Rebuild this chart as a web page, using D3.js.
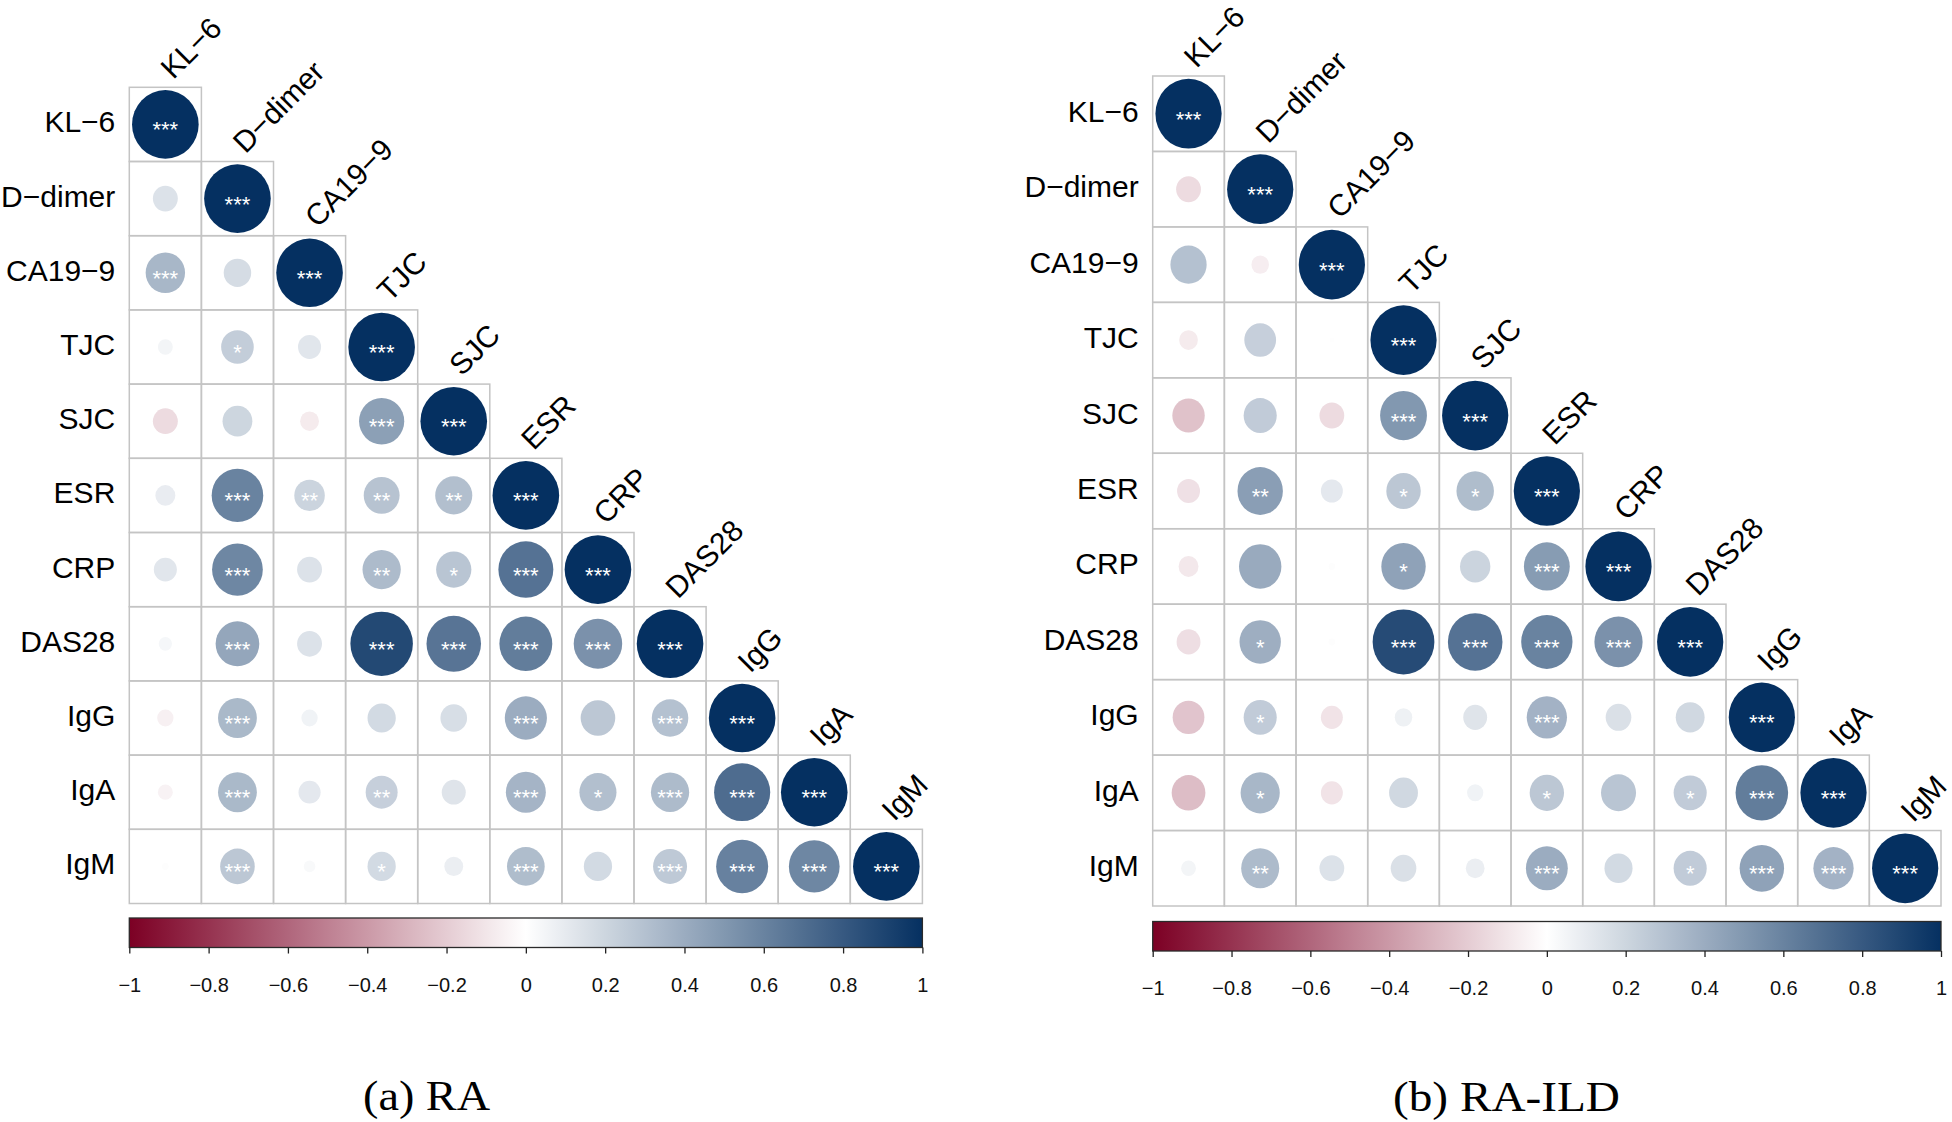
<!DOCTYPE html>
<html>
<head>
<meta charset="utf-8">
<script src="https://cdn.jsdelivr.net/npm/d3@7"></script>
<style>
  html, body { margin: 0; padding: 0; background: #fff; }
  svg { display: block; }
</style>
</head>
<body>
<svg id="chart" width="1952" height="1122"></svg>
<script>
// ---------------- DATA ----------------
const variables = ["KL\u22126", "D\u2212dimer", "CA19\u22129", "TJC", "SJC", "ESR", "CRP", "DAS28", "IgG", "IgA", "IgM"];

// lower-triangle correlations (row i, columns 0..i-1); diagonal = 1
const raValues = [
  [],
  [0.14],
  [0.35, 0.17],
  [0.05, 0.24, 0.12],
  [-0.14, 0.20, -0.08, 0.46],
  [0.09, 0.60, 0.21, 0.29, 0.31],
  [0.12, 0.58, 0.14, 0.33, 0.28, 0.68],
  [0.04, 0.43, 0.14, 0.88, 0.67, 0.63, 0.53],
  [-0.06, 0.34, 0.06, 0.18, 0.16, 0.40, 0.27, 0.30],
  [-0.05, 0.34, 0.11, 0.23, 0.13, 0.36, 0.31, 0.33, 0.71],
  [0.01, 0.27, 0.03, 0.18, 0.08, 0.32, 0.18, 0.26, 0.61, 0.58]
];
const raStars = [
  [],
  [""],
  ["***", ""],
  ["", "*", ""],
  ["", "", "", "***"],
  ["", "***", "**", "**", "**"],
  ["", "***", "", "**", "*", "***"],
  ["", "***", "", "***", "***", "***", "***"],
  ["", "***", "", "", "", "***", "", "***"],
  ["", "***", "", "**", "", "***", "*", "***", "***"],
  ["", "***", "", "*", "", "***", "", "***", "***", "***"]
];

const ildValues = [
  [],
  [-0.14],
  [0.30, -0.07],
  [-0.08, 0.23, 0.005],
  [-0.24, 0.25, -0.14, 0.50],
  [-0.12, 0.47, 0.11, 0.27, 0.32],
  [-0.09, 0.41, 0.01, 0.45, 0.21, 0.48],
  [-0.13, 0.39, 0.01, 0.87, 0.68, 0.60, 0.53],
  [-0.23, 0.25, -0.11, 0.07, 0.13, 0.37, 0.15, 0.19],
  [-0.26, 0.35, -0.11, 0.19, 0.06, 0.27, 0.28, 0.25, 0.63],
  [0.05, 0.33, 0.14, 0.15, 0.08, 0.40, 0.18, 0.25, 0.45, 0.37]
];
const ildStars = [
  [],
  [""],
  ["", ""],
  ["", "", ""],
  ["", "", "", "***"],
  ["", "**", "", "*", "*"],
  ["", "", "", "*", "", "***"],
  ["", "*", "", "***", "***", "***", "***"],
  ["", "*", "", "", "", "***", "", ""],
  ["", "*", "", "", "", "*", "", "*", "***"],
  ["", "**", "", "", "", "***", "", "*", "***", "***"]
];
const diagonalValue = 1;
const diagonalStars = "***";

const colorbarTicks = [-1, -0.8, -0.6, -0.4, -0.2, 0, 0.2, 0.4, 0.6, 0.8, 1];
const captions = ["(a) RA", "(b) RA-ILD"];

// ---------------- LAYOUT ----------------
const panels = [
  { values: raValues, stars: raStars, caption: captions[0],
    x0: 129.3, y0: 87.3, w: 793.1, h: 816.2,
    barY: 918, barH: 29.5, capX: 363, capW: 127, capY: 1110 },
  { values: ildValues, stars: ildStars, caption: captions[1],
    x0: 1152.7, y0: 76, w: 788.3, h: 830,
    barY: 921.5, barH: 29.5, capX: 1393, capW: 227, capY: 1111 }
];

const sansFont = "'Liberation Sans', Arial, Helvetica, sans-serif";
const serifFont = "'Liberation Serif', 'Times New Roman', serif";

const color = d3.scaleLinear()
  .domain([-1, 0, 1])
  .range(["#7c0024", "#ffffff", "#053061"])
  .interpolate(d3.interpolateRgb);

const radius = d3.scaleSqrt().domain([0, 1]).range([0, 0.462]);

const svg = d3.select("#chart");
const defs = svg.append("defs");

panels.forEach((p, pi) => {
  const g = svg.append("g");
  const x = d3.scaleBand().domain(d3.range(variables.length)).range([p.x0, p.x0 + p.w]);
  const y = d3.scaleBand().domain(d3.range(variables.length)).range([p.y0, p.y0 + p.h]);
  const bw = x.bandwidth(), bh = y.bandwidth();

  // build cell list
  const cells = [];
  variables.forEach((_, i) => {
    for (let j = 0; j <= i; j++) {
      const v = (i === j) ? diagonalValue : p.values[i][j];
      const s = (i === j) ? diagonalStars : p.stars[i][j];
      cells.push({ i, j, v, s });
    }
  });

  // grid cells
  g.append("g").selectAll("rect").data(cells).join("rect")
    .attr("x", d => x(d.j))
    .attr("y", d => y(d.i))
    .attr("width", bw)
    .attr("height", bh)
    .attr("fill", "none")
    .attr("stroke", "#c4c4c4")
    .attr("stroke-width", 1.5);

  // circles
  g.append("g").selectAll("ellipse").data(cells).join("ellipse")
    .attr("cx", d => x(d.j) + bw / 2)
    .attr("cy", d => y(d.i) + bh / 2)
    .attr("rx", d => radius(Math.abs(d.v)) * bw)
    .attr("ry", d => radius(Math.abs(d.v)) * bh)
    .attr("fill", d => color(d.v));

  // significance stars
  g.append("g").selectAll("text").data(cells.filter(d => d.s)).join("text")
    .attr("x", d => x(d.j) + bw / 2)
    .attr("y", d => y(d.i) + bh / 2 + 13)
    .attr("text-anchor", "middle")
    .attr("font-family", sansFont)
    .attr("font-size", 22)
    .attr("fill", "#ffffff")
    .text(d => d.s);

  // row labels
  g.append("g").selectAll("text").data(variables).join("text")
    .attr("x", p.x0 - 14)
    .attr("y", (d, i) => y(i) + bh / 2 + 8)
    .attr("text-anchor", "end")
    .attr("font-family", sansFont)
    .attr("font-size", 30)
    .attr("fill", "#000")
    .text(d => d);

  // column labels (rotated)
  g.append("g").selectAll("text").data(variables).join("text")
    .attr("transform", (d, i) => `translate(${x(i) + bw / 2 + 8},${y(i) - 7}) rotate(-45)`)
    .attr("text-anchor", "start")
    .attr("font-family", sansFont)
    .attr("font-size", 30)
    .attr("fill", "#000")
    .text(d => d);

  // colorbar
  const cx = d3.scaleLinear().domain([-1, 1]).range([p.x0, p.x0 + p.w]);
  const gradId = "grad" + pi;
  const grad = defs.append("linearGradient").attr("id", gradId)
    .attr("x1", "0%").attr("x2", "100%").attr("y1", "0%").attr("y2", "0%");
  d3.range(0, 1.0001, 0.05).forEach(t => {
    grad.append("stop").attr("offset", (t * 100) + "%").attr("stop-color", color(-1 + 2 * t));
  });
  g.append("rect")
    .attr("x", cx(-1)).attr("y", p.barY)
    .attr("width", cx(1) - cx(-1)).attr("height", p.barH)
    .attr("fill", `url(#${gradId})`)
    .attr("stroke", "#2a2a2a")
    .attr("stroke-width", 1.3);

  const axis = d3.axisBottom(cx)
    .tickValues(colorbarTicks)
    .tickSize(6)
    .tickPadding(24)
    .tickFormat(d => d === 0 ? "0" : d3.format("~g")(d));
  const ax = g.append("g")
    .attr("transform", `translate(0,${p.barY + p.barH})`)
    .call(axis);
  ax.select(".domain").remove();
  ax.selectAll(".tick line").attr("stroke", "#222").attr("stroke-width", 1.3);
  ax.selectAll(".tick text")
    .attr("font-family", sansFont)
    .attr("font-size", 20)
    .attr("fill", "#111");

  // caption
  g.append("text")
    .attr("x", p.capX)
    .attr("y", p.capY)
    .attr("font-family", serifFont)
    .attr("font-size", 43)
    .attr("textLength", p.capW)
    .attr("lengthAdjust", "spacingAndGlyphs")
    .attr("fill", "#000")
    .text(p.caption);
});
</script>
</body>
</html>
